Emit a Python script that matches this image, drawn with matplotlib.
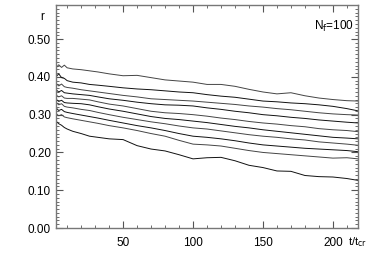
import numpy as np
import matplotlib
matplotlib.use("Agg")
import matplotlib.pyplot as plt
from matplotlib.ticker import MultipleLocator

plt.rcParams['font.family'] = ['Liberation Sans', 'DejaVu Sans']

# time in units of t_cr
t = [2, 4, 6, 8, 10, 14, 20, 26, 32, 40, 50, 60, 70, 80, 90, 100, 110, 120,
     130, 140, 150, 160, 170, 180, 190, 200, 210, 218]

# r for the ten runs, top to bottom
r1 = [0.424, 0.432, 0.425, 0.431, 0.424, 0.421, 0.419, 0.416, 0.413, 0.408, 0.403, 0.404, 0.398, 0.392,
      0.389, 0.386, 0.380, 0.380, 0.375, 0.367, 0.360, 0.355, 0.358, 0.350, 0.344, 0.340, 0.337, 0.336]
r2 = [0.400, 0.408, 0.398, 0.396, 0.390, 0.386, 0.384, 0.380, 0.378, 0.375, 0.371, 0.368, 0.366, 0.363,
      0.360, 0.358, 0.353, 0.349, 0.346, 0.341, 0.336, 0.334, 0.331, 0.329, 0.326, 0.322, 0.316, 0.310]
r3 = [0.383, 0.376, 0.381, 0.374, 0.372, 0.370, 0.366, 0.363, 0.360, 0.356, 0.351, 0.347, 0.342, 0.340,
      0.338, 0.336, 0.333, 0.330, 0.327, 0.323, 0.320, 0.316, 0.313, 0.309, 0.305, 0.302, 0.300, 0.299]
r4 = [0.366, 0.360, 0.364, 0.358, 0.357, 0.355, 0.353, 0.351, 0.347, 0.342, 0.338, 0.333, 0.329, 0.326,
      0.325, 0.323, 0.318, 0.314, 0.309, 0.305, 0.300, 0.297, 0.293, 0.290, 0.286, 0.283, 0.280, 0.278]
r5 = [0.352, 0.347, 0.350, 0.344, 0.343, 0.343, 0.341, 0.339, 0.334, 0.328, 0.323, 0.316, 0.309, 0.305,
      0.303, 0.300, 0.296, 0.291, 0.287, 0.282, 0.278, 0.275, 0.271, 0.268, 0.263, 0.260, 0.258, 0.255]
r6 = [0.341, 0.335, 0.338, 0.332, 0.331, 0.330, 0.329, 0.326, 0.321, 0.315, 0.309, 0.302, 0.295, 0.290,
      0.287, 0.283, 0.279, 0.274, 0.269, 0.265, 0.260, 0.256, 0.252, 0.248, 0.244, 0.240, 0.238, 0.236]
r7 = [0.333, 0.326, 0.329, 0.322, 0.320, 0.318, 0.314, 0.311, 0.306, 0.300, 0.293, 0.287, 0.281, 0.276,
      0.270, 0.265, 0.262, 0.257, 0.252, 0.247, 0.243, 0.240, 0.236, 0.233, 0.228, 0.225, 0.222, 0.219]
r8 = [0.318, 0.311, 0.314, 0.308, 0.306, 0.303, 0.299, 0.295, 0.291, 0.285, 0.278, 0.271, 0.265, 0.258,
      0.250, 0.243, 0.240, 0.236, 0.231, 0.225, 0.220, 0.217, 0.214, 0.211, 0.209, 0.207, 0.205, 0.202]
r9 = [0.303, 0.297, 0.300, 0.294, 0.292, 0.289, 0.285, 0.281, 0.277, 0.271, 0.265, 0.258, 0.250, 0.243,
      0.232, 0.222, 0.220, 0.217, 0.211, 0.205, 0.200, 0.197, 0.194, 0.191, 0.188, 0.185, 0.186, 0.183]
r10 = [0.283, 0.276, 0.272, 0.266, 0.262, 0.256, 0.250, 0.243, 0.240, 0.236, 0.234, 0.218, 0.209, 0.204,
       0.194, 0.183, 0.186, 0.187, 0.178, 0.166, 0.160, 0.151, 0.150, 0.139, 0.136, 0.135, 0.131, 0.126]

runs = [r1, r2, r3, r4, r5, r6, r7, r8, r9, r10]

fig = plt.figure(figsize=(3.73, 2.67), dpi=100)
ax = fig.add_axes([0.150, 0.146, 0.810, 0.835])

for i, r in enumerate(runs):
    col = '#111111' if i % 2 else '#444444'
    ax.plot(t, r, color=col, linewidth=0.7)

ax.set_xlim(2, 218)
ax.set_ylim(0, 0.59)
ax.xaxis.set_major_locator(MultipleLocator(50))
ax.xaxis.set_minor_locator(MultipleLocator(10))
ax.yaxis.set_major_locator(MultipleLocator(0.1))
ax.yaxis.set_minor_locator(MultipleLocator(0.01))
ax.yaxis.set_major_formatter(plt.FormatStrFormatter('%.2f'))

ax.tick_params(which='both', direction='in', top=True, right=True,
               color='#555555', labelsize=8.5)
ax.tick_params(which='major', length=5, width=0.8)
ax.tick_params(which='minor', length=2.5, width=0.6)
ax.tick_params(axis='x', pad=6.5)
ax.tick_params(axis='y', pad=3.5)
for s in ax.spines.values():
    s.set_color('#777777')
    s.set_linewidth(1.0)

fig.text(0.113, 0.935, 'r', fontsize=8.5, ha='center', va='center')
fig.text(0.934, 0.094, r't/t$_{\mathrm{cr}}$', fontsize=8, ha='left', va='center')
ax.text(0.985, 0.905, r'N$_{\mathrm{f}}$=100', transform=ax.transAxes,
        fontsize=8.5, ha='right', va='center')

fig.savefig('out.png', dpi=100)
